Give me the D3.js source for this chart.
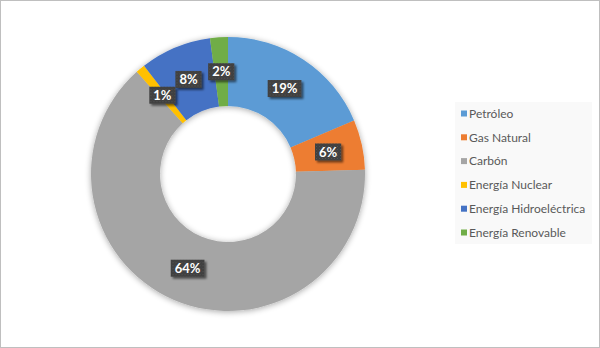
<!DOCTYPE html>
<html>
<head>
<meta charset="utf-8">
<script src="https://cdn.jsdelivr.net/npm/d3@7/dist/d3.min.js"></script>
<style>
  html, body { margin: 0; padding: 0; background: #fff; }
  svg { display: block; }
</style>
</head>
<body>
<svg id="chart" width="600" height="348"></svg>
<script>
// Data
const categories = ["Petróleo", "Gas Natural", "Carbón", "Energía Nuclear", "Energía Hidroeléctrica", "Energía Renovable"];
const values = [18.6, 5.9, 63.9, 1.1, 8.4, 2.1];
const labels = ["19%", "6%", "64%", "1%", "8%", "2%"];
const colors = ["#5B9BD5", "#ED7D31", "#A5A5A5", "#FFC000", "#4472C4", "#70AD47"];

const svg = d3.select("#chart");
const W = 600, H = 348;

// outer frame
svg.append("rect").attr("x", 0.5).attr("y", 0.5).attr("width", W - 1).attr("height", H - 1)
  .attr("fill", "#fff").attr("stroke", "#bfbfbf").attr("stroke-width", 1);

const defs = svg.append("defs");
const ringShadow = defs.append("filter").attr("id", "ringShadow")
  .attr("x", "-20%").attr("y", "-20%").attr("width", "140%").attr("height", "140%");
ringShadow.append("feGaussianBlur").attr("in", "SourceAlpha").attr("stdDeviation", 3).attr("result", "b");
ringShadow.append("feOffset").attr("in", "b").attr("dx", 0).attr("dy", 1).attr("result", "o");
ringShadow.append("feComponentTransfer").attr("in", "o").attr("result", "s")
  .append("feFuncA").attr("type", "linear").attr("slope", 0.35);
const m1 = ringShadow.append("feMerge");
m1.append("feMergeNode").attr("in", "s");
m1.append("feMergeNode").attr("in", "SourceGraphic");

const boxShadow = defs.append("filter").attr("id", "boxShadow")
  .attr("x", "-30%").attr("y", "-40%").attr("width", "170%").attr("height", "190%");
boxShadow.append("feGaussianBlur").attr("in", "SourceAlpha").attr("stdDeviation", 1.2).attr("result", "b");
boxShadow.append("feOffset").attr("in", "b").attr("dx", 2).attr("dy", 2).attr("result", "o");
boxShadow.append("feComponentTransfer").attr("in", "o").attr("result", "s")
  .append("feFuncA").attr("type", "linear").attr("slope", 0.55);
const m2 = boxShadow.append("feMerge");
m2.append("feMergeNode").attr("in", "s");
m2.append("feMergeNode").attr("in", "SourceGraphic");

const pat = defs.append("pattern").attr("id", "dots").attr("width", 3).attr("height", 3)
  .attr("patternUnits", "userSpaceOnUse");
pat.append("rect").attr("width", 3).attr("height", 3).attr("fill", "#3f3f3f");
pat.append("rect").attr("x", 0).attr("y", 0).attr("width", 1).attr("height", 1).attr("fill", "#555");
pat.append("rect").attr("x", 1.5).attr("y", 1.5).attr("width", 1).attr("height", 1).attr("fill", "#4b4b4b");

// Donut
const cx = 228, cy = 174, rOuter = 137, rInner = 68;
const pie = d3.pie().sort(null).value(d => d.v);
const data = categories.map((c, i) => ({ c, v: values[i], l: labels[i], col: colors[i] }));
const arcs = pie(data);
const arc = d3.arc().innerRadius(rInner).outerRadius(rOuter);
const labelArc = d3.arc().innerRadius((rInner + rOuter) / 2).outerRadius((rInner + rOuter) / 2);

const g = svg.append("g").attr("transform", `translate(${cx},${cy})`);
g.append("g").attr("filter", "url(#ringShadow)")
  .selectAll("path").data(arcs).enter().append("path")
  .attr("d", arc).attr("fill", d => d.data.col);

// Labels
const lg = g.append("g");
arcs.forEach(d => {
  const [x, y] = labelArc.centroid(d);
  const grp = lg.append("g").attr("transform", `translate(${x},${y})`);
  const t = grp.append("text").attr("text-anchor", "middle").attr("dy", "0.36em")
    .attr("font-family", "Lato, 'Open Sans', sans-serif").attr("font-weight", "bold")
    .attr("font-size", 13).attr("fill", "#fff").text(d.data.l);
  const w = t.node().getComputedTextLength() + 8;
  grp.insert("rect", "text").attr("x", -w / 2).attr("y", -8.5).attr("width", w).attr("height", 17)
    .attr("fill", "url(#dots)").attr("filter", "url(#boxShadow)");
});

// Legend
const legend = svg.append("g");
legend.append("rect").attr("x", 455).attr("y", 102).attr("width", 137).attr("height", 142)
  .attr("fill", "#f9f9f9");
const ly = d3.scalePoint().domain(categories).range([113.5, 232.5]);
const items = legend.selectAll("g.item").data(data).enter().append("g").attr("class", "item")
  .attr("transform", d => `translate(461,${ly(d.c)})`);
items.append("rect").attr("x", 0).attr("y", -3).attr("width", 6).attr("height", 6).attr("fill", d => d.col);
items.append("text").attr("x", 8).attr("dy", "0.35em")
  .attr("font-family", "Lato, 'Open Sans', sans-serif").attr("font-size", 12).attr("fill", "#595959")
  .text(d => d.c);
</script>
</body>
</html>
